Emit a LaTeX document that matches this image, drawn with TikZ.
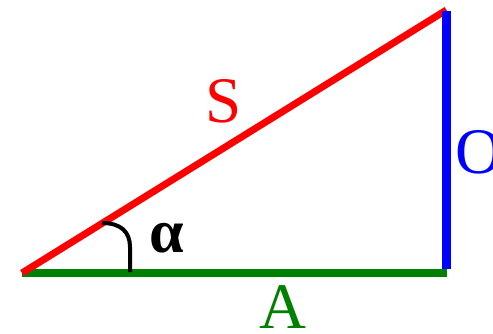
\documentclass[tikz,border=0pt]{standalone}
\usepackage{fontspec}
\setmainfont{Liberation Serif}
\begin{document}
\begin{tikzpicture}[x=1pt,y=-1pt,
  lbl/.style={inner sep=0pt,font=\fontsize{65}{65}\selectfont},
  side/.style={line cap=butt}]
\useasboundingbox (0,0) rectangle (493,334);
\coordinate (B) at (22,273);
\coordinate (C) at (446.5,273);
\coordinate (T) at (446.5,10);
\coordinate (a1) at (130,272);
\coordinate (a2) at (102,223);
\draw[side,green!50!black,line width=8pt] (B) -- (C);
\draw[side,red,line width=7pt] (B) -- (T);
\draw[side,blue,line width=9pt] ([yshift=4pt]C) -- ([yshift=-1pt]T);
\draw[line width=4pt,black] (a1) -- (130,247) .. controls (130,232) and (121,223) .. (a2);
\node[lbl,red,anchor=base] (S) at (224,123) {S};
\node[lbl,green!50!black,anchor=base] (A) at (283,328) {A};
\node[lbl,blue,anchor=base west] (O) at (455,174) {O};
\node[inner sep=0pt,anchor=base,font=\fontsize{62}{62}\selectfont\bfseries] (al) at (166.5,252) {α};
\end{tikzpicture}
\end{document}
